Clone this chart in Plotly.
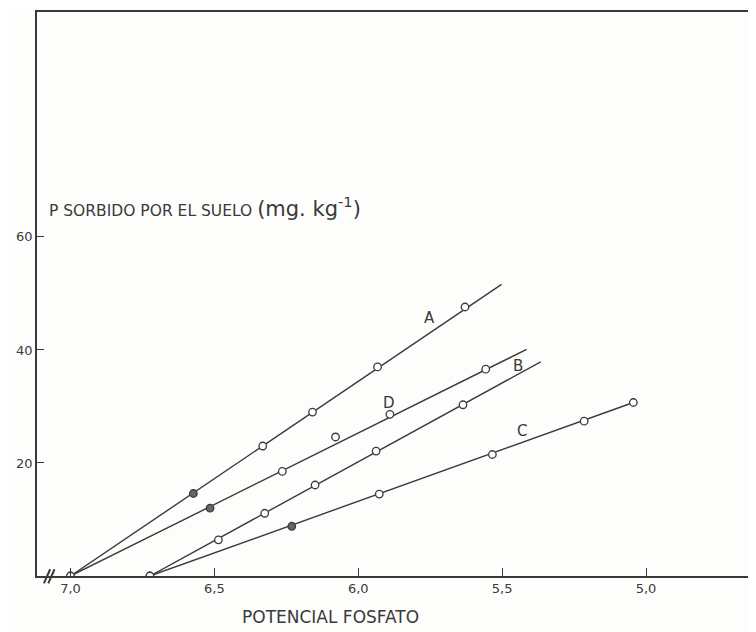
import plotly.graph_objects as go

# ---- data ----
ax_A = [7.0, 6.573, 6.332, 6.159, 5.933, 5.629]
ay_A = [0.0, 14.6, 23.0, 29.0, 37.0, 47.6]
fill_A = [False, True, False, False, False, False]
line_x_A = [7.0, 5.502]
line_y_A = [0.0, 51.6]

ax_D = [7.0, 6.515, 6.264, 6.079, 5.890, 5.557]
ay_D = [0.0, 12.0, 18.5, 24.6, 28.6, 36.6]
fill_D = [False, True, False, False, False, False]
line_x_D = [7.0, 5.415]
line_y_D = [0.0, 40.1]

ax_B = [6.724, 6.486, 6.325, 6.150, 5.938, 5.636]
ay_B = [0.0, 6.4, 11.1, 16.1, 22.1, 30.3]
fill_B = [False, False, False, False, False, False]
line_x_B = [6.724, 5.366]
line_y_B = [0.0, 37.9]

ax_C = [6.724, 6.231, 5.927, 5.534, 5.215, 5.044]
ay_C = [0.0, 8.8, 14.5, 21.5, 27.4, 30.7]
fill_C = [False, True, False, False, False, False]
line_x_C = [6.724, 5.044]
line_y_C = [0.0, 30.7]

series_names = ["A", "D", "B", "C"]
label_x = [5.751, 5.893, 5.445, 5.431]
label_y = [45.6, 30.6, 37.1, 25.6]

x_tickvals = [7.0, 6.5, 6.0, 5.5, 5.0]
x_ticktext = ["7,0", "6,5", "6,0", "5,5", "5,0"]
y_tickvals = [20, 40, 60]
y_ticktext = ["20", "40", "60"]

INK = "#3a3a3a"
FONT = "DejaVu Sans"

fig = go.Figure()

series = [
    (ax_A, ay_A, fill_A, line_x_A, line_y_A),
    (ax_D, ay_D, fill_D, line_x_D, line_y_D),
    (ax_B, ay_B, fill_B, line_x_B, line_y_B),
    (ax_C, ay_C, fill_C, line_x_C, line_y_C),
]

for name, (px, py, pf, lx, ly) in zip(series_names, series):
    fig.add_trace(go.Scatter(x=lx, y=ly, mode="lines",
                             line=dict(color=INK, width=1.4),
                             showlegend=False, hoverinfo="skip"))
for name, (px, py, pf, lx, ly) in zip(series_names, series):
    fig.add_trace(go.Scatter(
        x=px, y=py, mode="markers", name=name, showlegend=False,
        marker=dict(size=7.5,
                    color=["#666666" if f else "white" for f in pf],
                    line=dict(color=INK, width=1.3))))

for name, lxp, lyp in zip(series_names, label_x, label_y):
    fig.add_annotation(x=lxp, y=lyp, text=name, showarrow=False,
                       font=dict(family=FONT, size=15, color=INK))

fig.add_annotation(x=7.082, y=65.3, xanchor="left", yanchor="middle",
                   text="P SORBIDO POR EL SUELO <span style='font-size:21px'>(mg. kg<sup>-1</sup>)</span>",
                   showarrow=False,
                   font=dict(family=FONT, size=15.5, color=INK))

fig.add_annotation(x=6.098, y=-0.073, yref="paper", text="POTENCIAL FOSFATO",
                   showarrow=False, yanchor="middle",
                   font=dict(family=FONT, size=17, color=INK))

# axis-break mark
for dx in (0.0, 0.006):
    fig.add_shape(type="line", xref="paper", yref="paper",
                  x0=0.0095 + dx, y0=-0.013, x1=0.0181 + dx, y1=0.012,
                  line=dict(color=INK, width=2))

# the page body adds an 8 px offset, so margins are reduced to compensate
fig.update_layout(
    width=756, height=624,
    margin=dict(l=29, r=0, t=4, b=56),
    paper_bgcolor="#fdfdfb", plot_bgcolor="#fdfdfb",
    font=dict(family=FONT, color=INK),
)
fig.update_xaxes(range=[7.1164, 4.590], showgrid=False, zeroline=False,
                 showline=True, linecolor=INK, linewidth=1.5, mirror=True,
                 ticks="inside", ticklen=8, tickcolor=INK, tickwidth=1.3,
                 tickvals=x_tickvals, ticktext=x_ticktext,
                 tickfont=dict(family=FONT, size=13, color=INK))
fig.update_yaxes(range=[0, 99.8], showgrid=False, zeroline=False,
                 showline=True, linecolor=INK, linewidth=1.5,
                 ticks="inside", ticklen=7, tickcolor=INK, tickwidth=1.3,
                 tickvals=y_tickvals, ticktext=y_ticktext,
                 tickfont=dict(family=FONT, size=13, color=INK))

fig.write_html("out.html")
